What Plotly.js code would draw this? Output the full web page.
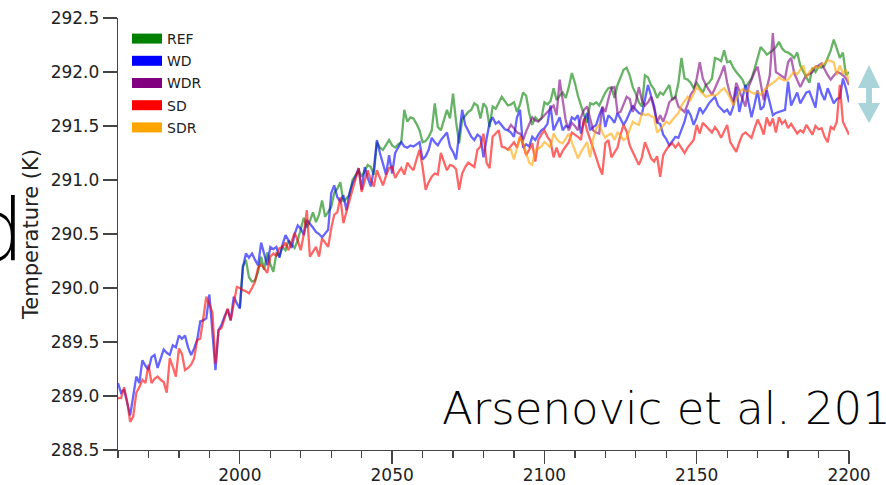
<!DOCTYPE html>
<html>
<head>
<meta charset="utf-8">
<script src="https://cdn.plot.ly/plotly-3.0.1.min.js"></script>
<style>
html,body{margin:0;padding:0;background:#fff;}
#chart{width:886px;height:485px;}
</style>
</head>
<body>
<div id="chart"></div>
<script>
// ---- data ----
const START_WD_SD = 1960;
const START_REF = 2000;
const START_R = 2088;

const seriesNames = ["REF", "WD", "WDR", "SD", "SDR"];
const seriesColors = ["0,128,0", "0,0,255", "128,0,128", "255,0,0", "255,165,0"];

const WD = [
  289.12, 289.03, 289.06, 288.95, 288.82, 289.00, 289.18, 289.12, 289.33, 289.28,
  289.24, 289.36, 289.38, 289.26, 289.34, 289.43, 289.40, 289.38, 289.47, 289.45,
  289.56, 289.53, 289.56, 289.45, 289.38, 289.44, 289.52, 289.69, 289.70, 289.72,
  289.94, 289.60, 289.24, 289.61, 289.66, 289.74, 289.80, 289.70, 289.92, 289.86,
  289.81, 290.19, 290.32, 290.28, 290.32, 290.26, 290.21, 290.42, 290.30, 290.21,
  290.38, 290.36, 290.38, 290.28, 290.40, 290.49, 290.44, 290.37, 290.50, 290.58,
  290.55, 290.49, 290.63, 290.60, 290.56, 290.52, 290.50, 290.47, 290.50, 290.54,
  290.88, 290.95, 290.84, 290.80, 290.86, 290.72, 290.88, 290.97, 291.03, 291.11,
  290.91, 291.12, 291.02, 290.94, 291.10, 291.37, 291.25, 291.15, 291.05, 291.23,
  291.06, 291.25, 291.30, 291.35, 291.31, 291.30, 291.32, 291.31, 291.33, 291.35,
  291.19, 291.22, 291.28, 291.39, 291.35, 291.32, 291.37, 291.40, 291.44, 291.31,
  291.26, 291.19, 291.40, 291.65, 291.51, 291.45, 291.40, 291.37, 291.42, 291.40,
  291.21, 291.38, 291.53, 291.58, 291.52, 291.54, 291.50, 291.47, 291.46, 291.44,
  291.40, 291.58, 291.65, 291.30, 291.33, 291.31, 291.40, 291.37, 291.42, 291.46,
  291.48, 291.52, 291.69, 291.46, 291.52, 291.58, 291.46, 291.50, 291.49, 291.58,
  291.56, 291.60, 291.43, 291.55, 291.62, 291.46, 291.49, 291.51, 291.60, 291.67,
  291.49, 291.60, 291.57, 291.53, 291.62, 291.56, 291.51, 291.56, 291.62, 291.69,
  291.65, 291.62, 291.61, 291.76, 291.88, 291.78, 291.69, 291.53, 291.52, 291.42,
  291.38, 291.32, 291.36, 291.40, 291.39, 291.47, 291.54, 291.65, 291.60, 291.51,
  291.58, 291.67, 291.62, 291.66, 291.71, 291.74, 291.77, 291.69, 291.66, 291.63,
  291.65, 291.60, 291.68, 291.86, 291.63, 291.75, 291.88, 291.72, 291.58, 291.70,
  291.83, 291.65, 291.68, 291.83, 291.72, 291.60, 291.62, 291.63, 291.64, 291.65,
  291.91, 291.69, 291.75, 291.81, 291.71, 291.76, 291.81, 291.82, 291.75, 291.67,
  291.90, 291.80, 291.74, 291.85, 291.78, 291.71, 291.75, 291.76, 291.94, 291.85,
  291.72
];

const SD = [
  288.98, 288.98, 289.08, 288.95, 288.76, 288.81, 289.03, 289.08, 289.15, 289.12,
  289.29, 289.12, 289.16, 289.18, 289.15, 289.13, 289.03, 289.35, 289.27, 289.18,
  289.44, 289.39, 289.24, 289.26, 289.29, 289.35, 289.52, 289.53, 289.72, 289.92,
  289.85, 289.77, 289.30, 289.61, 289.63, 289.72, 289.81, 289.70, 289.85, 290.01,
  290.00, 289.98, 289.97, 289.95, 290.00, 290.06, 290.19, 290.22, 290.18, 290.14,
  290.29, 290.32, 290.30, 290.37, 290.38, 290.42, 290.35, 290.43, 290.51, 290.44,
  290.35, 290.50, 290.72, 290.29, 290.33, 290.38, 290.29, 290.46, 290.42, 290.38,
  290.55, 290.68, 290.70, 290.84, 290.60, 290.72, 290.81, 290.91, 291.00, 291.11,
  290.89, 291.00, 291.09, 291.00, 290.94, 291.09, 291.02, 290.95, 291.04, 291.11,
  291.12, 291.02, 291.07, 291.11, 291.05, 291.16, 291.12, 291.09, 291.19, 291.28,
  291.12, 290.91, 290.98, 291.03, 291.06, 291.05, 291.25, 291.17, 291.09, 291.14,
  291.13, 291.10, 290.91, 291.06, 291.12, 291.16, 291.14, 291.12, 291.28, 291.31,
  291.43, 291.16, 291.11, 291.40, 291.43, 291.46, 291.31, 291.30, 291.28, 291.32,
  291.35, 291.30, 291.40, 291.33, 291.23, 291.28, 291.34, 291.17, 291.37, 291.42,
  291.46, 291.40, 291.36, 291.21, 291.30, 291.21, 291.27, 291.31, 291.35, 291.44,
  291.42, 291.40, 291.37, 291.57, 291.46, 291.38, 291.31, 291.21, 291.12, 291.05,
  291.34, 291.37, 291.21, 291.25, 291.30, 291.42, 291.51, 291.45, 291.32, 291.26,
  291.20, 291.14, 291.21, 291.35, 291.28, 291.20, 291.17, 291.22, 291.03, 291.23,
  291.28, 291.32, 291.34, 291.30, 291.34, 291.29, 291.25, 291.30, 291.34, 291.37,
  291.51, 291.43, 291.53, 291.50, 291.48, 291.44, 291.49, 291.45, 291.39, 291.45,
  291.51, 291.35, 291.30, 291.26, 291.35, 291.42, 291.44, 291.41, 291.39, 291.48,
  291.56, 291.50, 291.42, 291.58, 291.50, 291.57, 291.44, 291.58, 291.52, 291.55,
  291.48, 291.52, 291.47, 291.43, 291.46, 291.44, 291.51, 291.47, 291.42, 291.50,
  291.47, 291.48, 291.40, 291.35, 291.49, 291.47, 291.54, 291.88, 291.54, 291.48,
  291.42
];

const REF = [
  289.81, 290.20, 290.26, 290.10, 290.06, 290.07, 290.15, 290.29, 290.17, 290.33,
  290.22, 290.15, 290.32, 290.30, 290.38, 290.35, 290.44, 290.40, 290.37, 290.44,
  290.54, 290.65, 290.56, 290.62, 290.70, 290.61, 290.68, 290.81, 290.66, 290.70,
  290.75, 290.88, 290.92, 290.98, 290.80, 290.83, 290.86, 291.00, 291.05, 291.09,
  291.03, 291.08, 291.14, 291.12, 291.05, 291.35, 291.30, 291.28, 291.33, 291.37,
  291.32, 291.30, 291.33, 291.35, 291.65, 291.54, 291.58, 291.57, 291.52, 291.46,
  291.35, 291.36, 291.40, 291.46, 291.71, 291.49, 291.46, 291.55, 291.65, 291.57,
  291.80, 291.54, 291.34, 291.56, 291.60, 291.63, 291.65, 291.71, 291.69, 291.57,
  291.71, 291.67, 291.49, 291.68, 291.66, 291.72, 291.77, 291.73, 291.69, 291.70,
  291.72, 291.63, 291.70, 291.81, 291.78, 291.62, 291.51, 291.58, 291.55, 291.57,
  291.72, 291.70, 291.73, 291.85, 291.74, 291.78, 291.81, 291.76, 291.86, 291.99,
  291.90, 291.78, 291.68, 291.60, 291.53, 291.71, 291.70, 291.72, 291.69, 291.75,
  291.81, 291.85, 291.86, 291.76, 291.88, 291.95, 292.02, 292.04, 291.97, 291.86,
  291.80, 291.72, 291.68, 291.97, 291.95, 291.88, 291.84, 291.76, 291.81, 291.79,
  291.83, 291.88, 291.74, 291.77, 291.90, 292.13, 291.94, 291.93, 291.90, 291.85,
  291.90, 291.86, 291.81, 291.88, 291.90, 291.94, 292.13, 292.12, 292.10, 292.20,
  292.09, 292.10, 292.04, 292.00, 291.96, 291.93, 291.86, 291.90, 291.94, 292.03,
  292.13, 292.23, 292.20, 292.16, 292.18, 292.20, 292.23, 292.28, 292.22, 292.19,
  292.18, 292.16, 292.13, 292.18, 292.06, 292.00, 291.95, 291.90, 292.04, 292.00,
  292.05, 292.04, 292.06, 292.13, 292.20, 292.30, 292.22, 292.13, 292.18, 291.97,
  292.00
];

const WDR = [
  291.46, 291.51,
  291.48, 291.44, 291.43, 291.37, 291.45, 291.51, 291.58, 291.55, 291.54, 291.57,
  291.60, 291.63, 291.66, 291.69, 291.60, 291.93, 291.74, 291.55, 291.46, 291.53,
  291.50, 291.46, 291.58, 291.65, 291.68, 291.58, 291.46, 291.44, 291.43, 291.68,
  291.63, 291.75, 291.85, 291.86, 291.62, 291.63, 291.70, 291.77, 291.75, 291.63,
  291.72, 291.86, 291.74, 291.69, 291.72, 291.77, 291.66, 291.53, 291.60, 291.54,
  291.62, 291.72, 291.75, 291.77, 291.68, 291.65, 291.63, 291.70, 291.79, 291.83,
  291.94, 292.09, 291.94, 291.88, 291.83, 291.79, 291.85, 291.91, 291.98, 292.06,
  291.90, 291.79, 291.72, 291.90, 291.82, 291.75, 291.68, 291.86, 291.93, 292.00,
  292.05, 291.90, 291.74, 291.85, 291.97, 292.36, 292.00, 291.98, 291.96, 291.94,
  292.09, 292.13, 291.99, 291.93, 291.86, 291.92, 291.97, 291.98, 292.00, 292.05,
  292.06, 292.08, 292.02, 291.97, 291.93, 291.96, 292.00, 291.99, 291.97, 291.94,
  291.88
];

const SDR = [
  291.28, 291.28,
  291.19, 291.31, 291.40, 291.34, 291.25, 291.16, 291.14, 291.28, 291.29, 291.31,
  291.35, 291.33, 291.30, 291.43, 291.38, 291.35, 291.34, 291.38, 291.43, 291.35,
  291.28, 291.20, 291.26, 291.31, 291.35, 291.21, 291.38, 291.48, 291.51, 291.44,
  291.39, 291.42, 291.43, 291.37, 291.44, 291.41, 291.37, 291.39, 291.46, 291.54,
  291.52, 291.51, 291.62, 291.60, 291.61, 291.59, 291.58, 291.44, 291.47, 291.50,
  291.54, 291.52, 291.56, 291.59, 291.62, 291.69, 291.73, 291.77, 291.74, 291.80,
  291.86, 291.83, 291.80, 291.77, 291.78, 291.79, 291.78, 291.80, 291.83, 291.85,
  291.81, 291.76, 291.69, 291.75, 291.81, 291.84, 291.82, 291.83, 291.81, 291.80,
  291.82, 291.79, 291.83, 291.86, 291.88, 291.90, 291.92, 291.95, 291.93, 291.92,
  291.93, 291.97, 292.00, 291.98, 292.02, 292.06, 291.95, 292.00, 292.03, 292.05,
  292.04, 292.07, 292.08, 292.11, 292.10, 292.09, 291.97, 292.06, 291.99, 292.02,
  291.90
];

const xTickVals = [2000, 2050, 2100, 2150, 2200];
const yTickVals = [288.5, 289.0, 289.5, 290.0, 290.5, 291.0, 291.5, 292.0, 292.5];

// ---- build traces ----
function years(start, n) { const a = []; for (let i = 0; i < n; i++) a.push(start + i); return a; }
const seriesData = {
  REF: {x: years(START_REF, REF.length), y: REF},
  WD:  {x: years(START_WD_SD, WD.length), y: WD},
  WDR: {x: years(START_R, WDR.length), y: WDR},
  SD:  {x: years(START_WD_SD, SD.length), y: SD},
  SDR: {x: years(START_R, SDR.length), y: SDR}
};

const traces = [];
seriesNames.forEach((n, i) => {
  traces.push({
    type: 'scatter', mode: 'lines', name: n, showlegend: false,
    x: seriesData[n].x, y: seriesData[n].y,
    line: {color: 'rgba(' + seriesColors[i] + ',0.6)', width: 2.3},
    hoverinfo: 'skip'
  });
});
// legend entries (solid patches)
seriesNames.forEach((n, i) => {
  traces.push({
    type: 'scatter', mode: 'lines', name: n, legendgroup: n, showlegend: true,
    x: [null], y: [null],
    line: {color: 'rgb(' + seriesColors[i] + ')', width: 10}
  });
});

// pixel -> paper helpers for decorations
const PL = 118, PR = 849, PT = 18, PB = 450;
const px = v => (v - PL) / (PR - PL);
const py = v => (PB - v) / (PB - PT);
const arrowPts = [[869,65],[880,88],[872,88],[872,103],[880,103],[869,123],[858,103],[866,103],[866,88],[858,88]];
const arrowPath = 'M' + arrowPts.map(p => px(p[0]).toFixed(4) + ',' + py(p[1]).toFixed(4)).join(' L') + ' Z';

const axisCommon = {
  showline: true, linecolor: '#444', linewidth: 1.3,
  ticks: 'outside', ticklen: 14, tickwidth: 1.3, tickcolor: '#444',
  showgrid: false, zeroline: false,
  tickfont: {family: 'DejaVu Sans', size: 17, color: '#222'}
};

const layout = {
  width: 886, height: 485,
  margin: {l: PL, r: 886 - PR, t: PT, b: 485 - PB},
  paper_bgcolor: '#fff', plot_bgcolor: '#fff',
  showlegend: true,
  legend: {
    x: px(127), y: py(23), xanchor: 'left', yanchor: 'top',
    bgcolor: 'rgba(0,0,0,0)', borderwidth: 0,
    font: {family: 'DejaVu Sans', size: 14, color: '#222'},
    tracegroupgap: 1, itemwidth: 30
  },
  xaxis: Object.assign({}, axisCommon, {
    range: [1960, 2200], tickvals: xTickVals, ticklen: 13, ticklabelstandoff: -4,
    minor: {dtick: 10, tick0: 1960, ticks: 'outside', ticklen: 7, tickwidth: 1.3, tickcolor: '#444', showgrid: false}
  }),
  yaxis: Object.assign({}, axisCommon, {
    range: [288.5, 292.5], tickvals: yTickVals, tickformat: '.1f',
    title: {text: 'Temperature (K)', font: {family: 'DejaVu Sans', size: 21, color: '#222'}, standoff: 6}
  }),
  shapes: [{
    type: 'path', xref: 'paper', yref: 'paper', path: arrowPath,
    fillcolor: 'rgb(168,212,218)', line: {width: 0}
  }],
  annotations: [
    {text: 'Arsenovic et al. 201', xref: 'paper', yref: 'paper', x: px(440), y: py(408),
     xanchor: 'left', yanchor: 'middle', showarrow: false,
     font: {family: 'DejaVu Sans', size: 45, weight: 200, color: '#000'}},
    {text: 'd', xref: 'paper', yref: 'paper', x: px(27), y: py(282),
     xanchor: 'right', yanchor: 'bottom', showarrow: false,
     font: {family: 'DejaVu Sans', size: 86, weight: 200, color: '#000'}}
  ]
};

Plotly.newPlot('chart', traces, layout, {displayModeBar: false, staticPlot: true});
</script>
</body>
</html>
